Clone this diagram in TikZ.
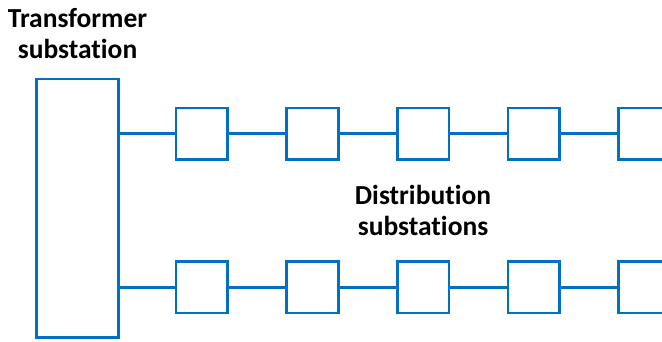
\documentclass[tikz,border=0pt]{standalone}
\usepackage{fontspec}
\setmainfont[Ligatures=NoCommon]{Carlito}
\definecolor{netblue}{HTML}{0070C0}
\begin{document}
\begin{tikzpicture}[x=1pt,y=-1pt,
  wire/.style={draw=netblue,line width=2.6pt},
  substation/.style={wire,fill=none,minimum size=51.6pt,inner sep=0pt,outer sep=0pt},
  mainbox/.style={wire,minimum width=82.4pt,minimum height=258.7pt,inner sep=0pt,outer sep=0pt},
  caption/.style={font=\bfseries\fontsize{27.5}{31}\selectfont,align=center,inner sep=0pt}]
  \useasboundingbox (0,0) rectangle (662,342);
  \clip (0,0) rectangle (662,342);
  % captions
  \node[caption] (tlabel) at (77.5,34) {Transformer\\substation};
  \node[caption] (dlabel) at (423,210) {Distribution\\substations};
  % transformer substation
  \node[mainbox] (main) at (77.5,208.4) {};
  % two feeders of distribution substations
  \foreach \r/\y in {a/133.7,b/287.3}{
    \foreach \i/\x in {1/201.8,2/312.4,3/423,4/533.6,5/644.2}{
      \node[substation] (\r\i) at (\x,\y) {};
    }
    \draw[wire] (\r1.west -| main.east) -- (\r1.west);
    \foreach \i/\j in {1/2,2/3,3/4,4/5}{
      \draw[wire] (\r\i.east) -- (\r\j.west);
    }
  }
\end{tikzpicture}
\end{document}
